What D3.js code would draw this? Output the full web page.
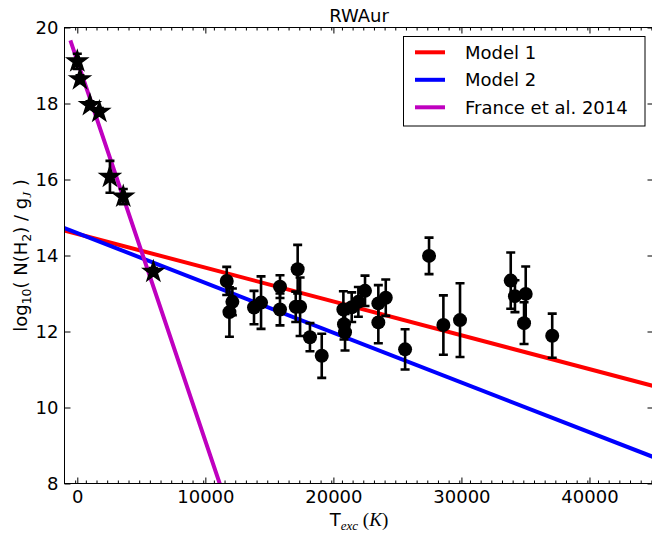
<!DOCTYPE html>
<html>
<head>
<meta charset="utf-8">
<script src="https://cdn.jsdelivr.net/npm/d3@7"></script>
<style>
  body { margin: 0; background: #fff; }
  svg { display: block; }
  text { font-family: "DejaVu Sans", sans-serif; fill: #000; }
</style>
</head>
<body>
<svg id="chart" width="652" height="533"></svg>
<script>
// Low-lying levels (France et al. 2014 fit region)
const starT    = [0, 210, 990, 1720, 2550, 3590, 5940];
const starLogN = [19.11, 18.64, 17.96, 17.78, 16.07, 15.55, 13.57];
const starErr  = [0.2, 0.1, 0.1, 0.1, 0.42, 0.2, 0.1];

// Fluorescent H2 levels
const levelT = [11670, 12110, 11880, 13800, 14350, 15830, 15830, 17210, 17060, 17400,
                18170, 19090, 20780, 20830, 20910, 21430, 21950, 22470, 23510, 23510,
                24090, 25600, 27470, 28590, 29890, 33850, 34180, 35020, 34890, 37090];
const levelLogN = [13.33, 12.78, 12.51, 12.63, 12.76, 13.18, 12.58, 13.64, 12.65, 12.65,
                   11.85, 11.36, 12.58, 12.19, 11.98, 12.64, 12.78, 13.07, 12.74, 12.24,
                   12.89, 11.53, 13.99, 12.17, 12.30, 13.34, 12.93, 12.99, 12.22, 11.89];
const levelErr = [0.37, 0.35, 0.65, 0.44, 0.69, 0.30, 0.42, 0.64, 0.40, 0.77,
                  0.37, 0.58, 0.48, 0.40, 0.48, 0.39, 0.39, 0.40, 0.48, 0.55,
                  0.48, 0.53, 0.48, 0.78, 0.97, 0.74, 0.42, 0.72, 0.55, 0.58];

// Straight-line models (end points in T, log N)
const model1T = [-1000, 45000], model1LogN = [14.659, 10.565];
const model2T = [-1000, 45000], model2LogN = [14.721, 8.695];
const franceT = [-490, 12000],  franceLogN = [19.61, 7.12];

const legendLabels = ["Model 1", "Model 2", "France et al. 2014"];
const legendColors = ["#ff0000", "#0000ff", "#bf00bf"];

const xTicks = [0, 10000, 20000, 30000, 40000];
const yTicks = [8, 10, 12, 14, 16, 18, 20];

const svg = d3.select("#chart");
const x = d3.scaleLinear().domain([-1000, 45000]).range([64.5, 653.5]);
const y = d3.scaleLinear().domain([8, 20]).range([483.5, 27.5]);
const [x0, x1] = x.range();
const [y1, y0] = y.range();

svg.append("defs").append("clipPath").attr("id", "plotClip")
  .append("rect").attr("x", x0).attr("y", y0).attr("width", x1 - x0).attr("height", y1 - y0);

const plot = svg.append("g").attr("clip-path", "url(#plotClip)");

// model lines
const line = d3.line().x(d => x(d[0])).y(d => y(d[1]));
const series = [
  [model1T, model1LogN, legendColors[0]],
  [model2T, model2LogN, legendColors[1]],
  [franceT, franceLogN, legendColors[2]]
];
series.forEach(([ts, vs, c]) => {
  plot.append("path")
    .attr("d", line(ts.map((t, i) => [t, vs[i]])))
    .attr("fill", "none").attr("stroke", c).attr("stroke-width", 4)
    .attr("stroke-linecap", "square");
});

// error bars
function errorBars(ts, vs, es) {
  const g = plot.append("g").attr("stroke", "#000").attr("stroke-width", 2.6);
  ts.forEach((t, i) => {
    const cx = x(t), ya = y(vs[i] + es[i]), yb = y(vs[i] - es[i]);
    g.append("line").attr("x1", cx).attr("x2", cx).attr("y1", ya).attr("y2", yb);
    g.append("line").attr("x1", cx - 4.5).attr("x2", cx + 4.5).attr("y1", ya).attr("y2", ya);
    g.append("line").attr("x1", cx - 4.5).attr("x2", cx + 4.5).attr("y1", yb).attr("y2", yb);
  });
}
errorBars(levelT, levelLogN, levelErr);
errorBars(starT, starLogN, starErr);

// circles
plot.append("g").selectAll("circle").data(levelT).join("circle")
  .attr("cx", d => x(d)).attr("cy", (d, i) => y(levelLogN[i])).attr("r", 7)
  .attr("fill", "#000");

// stars
const star = d3.symbol().type(d3.symbolStar).size(125);
plot.append("g").selectAll("path").data(starT).join("path")
  .attr("d", star)
  .attr("transform", (d, i) => `translate(${x(d)},${y(starLogN[i])})`)
  .attr("fill", "#000").attr("stroke", "#000").attr("stroke-width", 1.5)
  .attr("stroke-linejoin", "miter");

// axes: inward ticks on all four sides
function styleAxis(g) {
  g.select(".domain").remove();
  g.selectAll("line").attr("stroke", "#000");
  g.selectAll("text").attr("font-size", 18).attr("font-family", "DejaVu Sans").attr("fill", "#000");
}
const xMinor = d3.range(-1000, 45001, 10000 / 12).filter(v => v > -1000 && Math.abs(v / 10000 - Math.round(v / 10000)) > 1e-6);

svg.append("g").attr("transform", `translate(0,${y1})`)
  .call(d3.axisBottom(x).tickValues(xTicks).tickSize(-6).tickPadding(7).tickFormat(d3.format("d")))
  .call(styleAxis);
svg.append("g").attr("transform", `translate(0,${y1})`)
  .call(d3.axisBottom(x).tickValues(xMinor).tickSize(-3).tickFormat(""))
  .call(styleAxis);
svg.append("g").attr("transform", `translate(0,${y0})`)
  .call(d3.axisTop(x).tickValues(xTicks).tickSize(-6).tickFormat(""))
  .call(styleAxis);
svg.append("g").attr("transform", `translate(0,${y0})`)
  .call(d3.axisTop(x).tickValues(xMinor).tickSize(-3).tickFormat(""))
  .call(styleAxis);
svg.append("g").attr("transform", `translate(${x0},0)`)
  .call(d3.axisLeft(y).tickValues(yTicks).tickSize(-6).tickPadding(6).tickFormat(d3.format("d")))
  .call(styleAxis);
svg.append("g").attr("transform", `translate(${x1},0)`)
  .call(d3.axisRight(y).tickValues(yTicks).tickSize(-6).tickFormat(""))
  .call(styleAxis);

svg.append("rect").attr("x", x0).attr("y", y0).attr("width", x1 - x0).attr("height", y1 - y0)
  .attr("fill", "none").attr("stroke", "#000").attr("stroke-width", 1);

// title
svg.append("text").attr("x", (x0 + x1) / 2).attr("y", 21.5).attr("text-anchor", "middle")
  .attr("font-size", 18).text("RWAur");

// x label: T_exc (K)
const xl = svg.append("text").attr("x", (x0 + x1) / 2).attr("y", 526).attr("text-anchor", "middle")
  .attr("font-size", 18).style("white-space", "pre");
xl.append("tspan").text("T");
xl.append("tspan").attr("dy", 4).attr("font-size", 13).attr("font-style", "italic")
  .attr("font-family", "Liberation Serif").text("exc");
xl.append("tspan").attr("dy", -4).attr("font-family", "Liberation Serif").attr("font-size", 19).text(" (");
xl.append("tspan").attr("font-family", "Liberation Serif").attr("font-style", "italic").attr("font-size", 19).text("K");
xl.append("tspan").attr("font-family", "Liberation Serif").attr("font-size", 19).text(")");

// y label: log10( N(H2) / gJ )
const yl = svg.append("text").attr("transform", `translate(27,${(y0 + y1) / 2}) rotate(-90)`)
  .attr("text-anchor", "middle").attr("font-size", 18).style("white-space", "pre");
yl.append("tspan").text("log");
yl.append("tspan").attr("dy", 4).attr("font-size", 12.5).text("10");
yl.append("tspan").attr("dy", -4).text("( N(H");
yl.append("tspan").attr("dy", 4).attr("font-size", 12.5).text("2");
yl.append("tspan").attr("dy", -4).text(") / g");
yl.append("tspan").attr("dy", 4).attr("font-size", 13).attr("font-style", "italic")
  .attr("font-family", "Liberation Serif").text("J");
yl.append("tspan").attr("dy", -4).text(" )");

// legend
const lg = svg.append("g");
lg.append("rect").attr("x", 403.5).attr("y", 36.5).attr("width", 241.5).attr("height", 89.5)
  .attr("fill", "#fff").attr("stroke", "#000").attr("stroke-width", 1);
legendLabels.forEach((lab, i) => {
  const cy = 52.3 + i * 27.5;
  lg.append("line").attr("x1", 415).attr("x2", 445).attr("y1", cy).attr("y2", cy)
    .attr("stroke", legendColors[i]).attr("stroke-width", 4);
  lg.append("text").attr("x", 465).attr("y", cy + 6.5).attr("font-size", 18).text(lab);
});
</script>
</body>
</html>
